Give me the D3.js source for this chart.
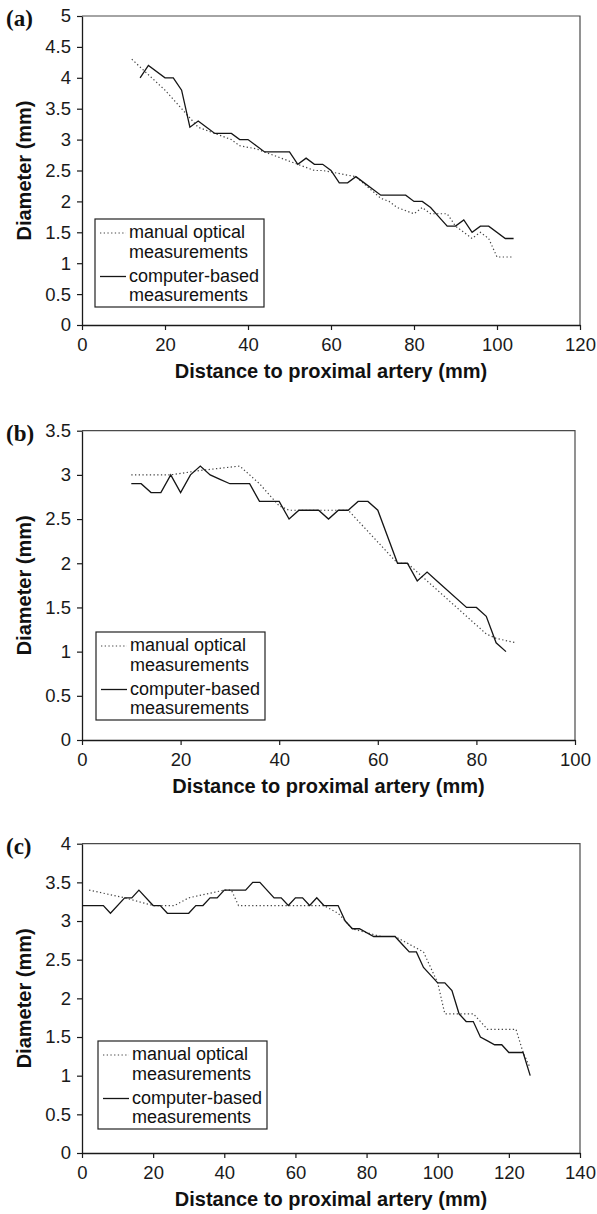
<!DOCTYPE html>
<html><head><meta charset="utf-8">
<script src="https://cdn.jsdelivr.net/npm/d3@7"></script>
<style>html,body{margin:0;padding:0;background:#fff;}svg{display:block;}</style>
</head><body>
<svg id="chart" width="597" height="1214"></svg>
<script>
// ---- data ----
const panelLabels = ["(a)", "(b)", "(c)"];
const legendLabels = [["manual optical", "measurements"], ["computer-based", "measurements"]];
const xTitle = "Distance to proximal artery (mm)";
const yTitle = "Diameter (mm)";

const xTicksA = [0, 20, 40, 60, 80, 100, 120];
const yTicksA = [0, 0.5, 1, 1.5, 2, 2.5, 3, 3.5, 4, 4.5, 5];
const xTicksB = [0, 20, 40, 60, 80, 100];
const yTicksB = [0, 0.5, 1, 1.5, 2, 2.5, 3, 3.5];
const xTicksC = [0, 20, 40, 60, 80, 100, 120, 140];
const yTicksC = [0, 0.5, 1, 1.5, 2, 2.5, 3, 3.5, 4];

const manualA = [[12,4.3],[16,4.05],[20,3.8],[24,3.5],[26,3.35],[28,3.2],[32,3.1],[36,3.0],[38,2.9],[42,2.85],[44,2.8],[48,2.7],[52,2.6],[54,2.55],[56,2.5],[58,2.5],[66,2.4],[72,2.05],[74,2.0],[76,1.9],[80,1.8],[82,1.9],[84,1.8],[88,1.8],[90,1.6],[92,1.5],[94,1.4],[96,1.5],[98,1.4],[100,1.1],[104,1.1]];
const computerA = [[14,4.0],[16,4.2],[20,4.0],[22,4.0],[24,3.8],[26,3.2],[28,3.3],[30,3.2],[32,3.1],[36,3.1],[38,3.0],[40,3.0],[42,2.9],[44,2.8],[50,2.8],[52,2.6],[54,2.7],[56,2.6],[58,2.6],[60,2.5],[62,2.3],[64,2.3],[66,2.4],[68,2.3],[70,2.2],[72,2.1],[78,2.1],[80,2.0],[82,2.0],[84,1.9],[86,1.75],[88,1.6],[90,1.6],[92,1.7],[94,1.5],[96,1.6],[98,1.6],[102,1.4],[104,1.4]];

const manualB = [[10,3.0],[18,3.0],[24,3.05],[32,3.1],[36,2.9],[40,2.65],[42,2.6],[54,2.6],[64,2.0],[66,2.0],[68,1.9],[72,1.7],[76,1.5],[80,1.3],[82,1.2],[84,1.15],[88,1.1]];
const computerB = [[10,2.9],[12,2.9],[14,2.8],[16,2.8],[18,3.0],[20,2.8],[22,3.0],[24,3.1],[26,3.0],[28,2.95],[30,2.9],[34,2.9],[36,2.7],[40,2.7],[42,2.5],[44,2.6],[48,2.6],[50,2.5],[52,2.6],[54,2.6],[56,2.7],[58,2.7],[60,2.6],[64,2.0],[66,2.0],[68,1.8],[70,1.9],[72,1.8],[78,1.5],[80,1.5],[82,1.4],[84,1.1],[86,1.0]];

const manualC = [[2,3.4],[12,3.3],[20,3.2],[26,3.2],[30,3.3],[40,3.4],[42,3.4],[44,3.2],[68,3.2],[72,3.1],[76,2.9],[80,2.85],[84,2.8],[88,2.8],[92,2.7],[96,2.6],[98,2.4],[100,2.2],[102,1.8],[110,1.8],[114,1.6],[122,1.6],[124,1.3],[126,1.1]];
const computerC = [[0,3.2],[6,3.2],[8,3.1],[12,3.3],[14,3.3],[16,3.4],[20,3.2],[22,3.2],[24,3.1],[30,3.1],[32,3.2],[34,3.2],[36,3.3],[38,3.3],[40,3.4],[46,3.4],[48,3.5],[50,3.5],[54,3.3],[56,3.3],[58,3.2],[60,3.3],[62,3.3],[64,3.2],[66,3.3],[68,3.2],[72,3.2],[74,3.0],[76,2.9],[78,2.9],[82,2.8],[88,2.8],[90,2.7],[92,2.6],[94,2.6],[96,2.4],[98,2.3],[100,2.2],[102,2.2],[104,2.1],[106,1.8],[108,1.7],[110,1.7],[112,1.5],[114,1.45],[116,1.4],[118,1.4],[120,1.3],[124,1.3],[126,1.0]];

// ---- layout ----
const panels = [
  {label: panelLabels[0], xTicks: xTicksA, yTicks: yTicksA, manual: manualA, computer: computerA,
   left: 82, right: 580, top: 16, bottom: 325, leg: {x: 95, y: 219}},
  {label: panelLabels[1], xTicks: xTicksB, yTicks: yTicksB, manual: manualB, computer: computerB,
   left: 82, right: 575, top: 430.7, bottom: 740, leg: {x: 96, y: 632}},
  {label: panelLabels[2], xTicks: xTicksC, yTicks: yTicksC, manual: manualC, computer: computerC,
   left: 82, right: 580, top: 843.7, bottom: 1153, leg: {x: 98, y: 1041}}
];

const svg = d3.select("#chart");
const SANS = "'Liberation Sans', Arial, Helvetica, sans-serif";

panels.forEach(p => {
  const x = d3.scaleLinear().domain([0, d3.max(p.xTicks)]).range([p.left, p.right]);
  const y = d3.scaleLinear().domain([0, d3.max(p.yTicks)]).range([p.bottom, p.top]);
  const g = svg.append("g");

  // frame top/right
  g.append("path")
    .attr("d", `M${p.left},${p.top}H${p.right}V${p.bottom}`)
    .attr("fill", "none").attr("stroke", "#4a4a4a").attr("stroke-width", 1.2);

  // axes
  const yAxis = d3.axisLeft(y).tickValues(p.yTicks).tickSize(5).tickSizeOuter(0).tickPadding(6)
    .tickFormat(d3.format("~g"));
  const ya = g.append("g").attr("transform", `translate(${p.left},0)`).call(yAxis);
  const xAxis = d3.axisBottom(x).tickValues(p.xTicks).tickSize(5).tickSizeOuter(0).tickPadding(8)
    .tickFormat(d3.format("~g"));
  const xa = g.append("g").attr("transform", `translate(0,${p.bottom})`).call(xAxis);
  [ya, xa].forEach(a => {
    a.select(".domain").attr("stroke", "#1a1a1a").attr("stroke-width", 1.3);
    a.selectAll(".tick line").attr("stroke", "#1a1a1a").attr("stroke-width", 1.2);
    a.selectAll(".tick text").attr("fill", "#1a1a1a")
      .style("font-family", SANS).style("font-size", "18.5px");
  });

  const line = d3.line().x(d => x(d[0])).y(d => y(d[1]));
  g.append("path").datum(p.manual).attr("d", line)
    .attr("fill", "none").attr("stroke", "#444").attr("stroke-width", 1.2)
    .attr("stroke-dasharray", "1.3,2.4");
  g.append("path").datum(p.computer).attr("d", line)
    .attr("fill", "none").attr("stroke", "#151515").attr("stroke-width", 1.3)
    .attr("stroke-linejoin", "miter");

  // panel label
  g.append("text").attr("x", 6).attr("y", p.top + 10)
    .style("font-family", "'Liberation Serif', 'Times New Roman', serif")
    .style("font-weight", "bold").style("font-size", "23px").attr("fill", "#111")
    .text(p.label);

  // axis titles
  g.append("text").attr("x", (p.left + p.right) / 2).attr("y", p.bottom + 53)
    .attr("text-anchor", "middle").style("font-family", SANS)
    .style("font-weight", "bold").style("font-size", "20px").attr("fill", "#111")
    .text(xTitle);
  g.append("text")
    .attr("transform", `translate(31,${(p.top + p.bottom) / 2}) rotate(-90)`)
    .attr("text-anchor", "middle").style("font-family", SANS)
    .style("font-weight", "bold").style("font-size", "20px").attr("fill", "#111")
    .text(yTitle);

  // legend
  const L = g.append("g").attr("transform", `translate(${p.leg.x},${p.leg.y})`);
  L.append("rect").attr("x", 0).attr("y", 0).attr("width", 169).attr("height", 88)
    .attr("fill", "#fff").attr("stroke", "#222").attr("stroke-width", 1.2);
  L.append("line").attr("x1", 5).attr("x2", 31).attr("y1", 14).attr("y2", 14)
    .attr("stroke", "#444").attr("stroke-width", 1.2).attr("stroke-dasharray", "1.3,2.4");
  L.append("line").attr("x1", 5).attr("x2", 31).attr("y1", 57.5).attr("y2", 57.5)
    .attr("stroke", "#151515").attr("stroke-width", 1.3);
  const baselines = [[19, 38.5], [62.5, 81.5]];
  legendLabels.forEach((lines, i) => {
    lines.forEach((t, j) => {
      L.append("text").attr("x", 34).attr("y", baselines[i][j])
        .style("font-family", SANS).style("font-size", "18px").attr("fill", "#111").text(t);
    });
  });
});
</script>
</body></html>
